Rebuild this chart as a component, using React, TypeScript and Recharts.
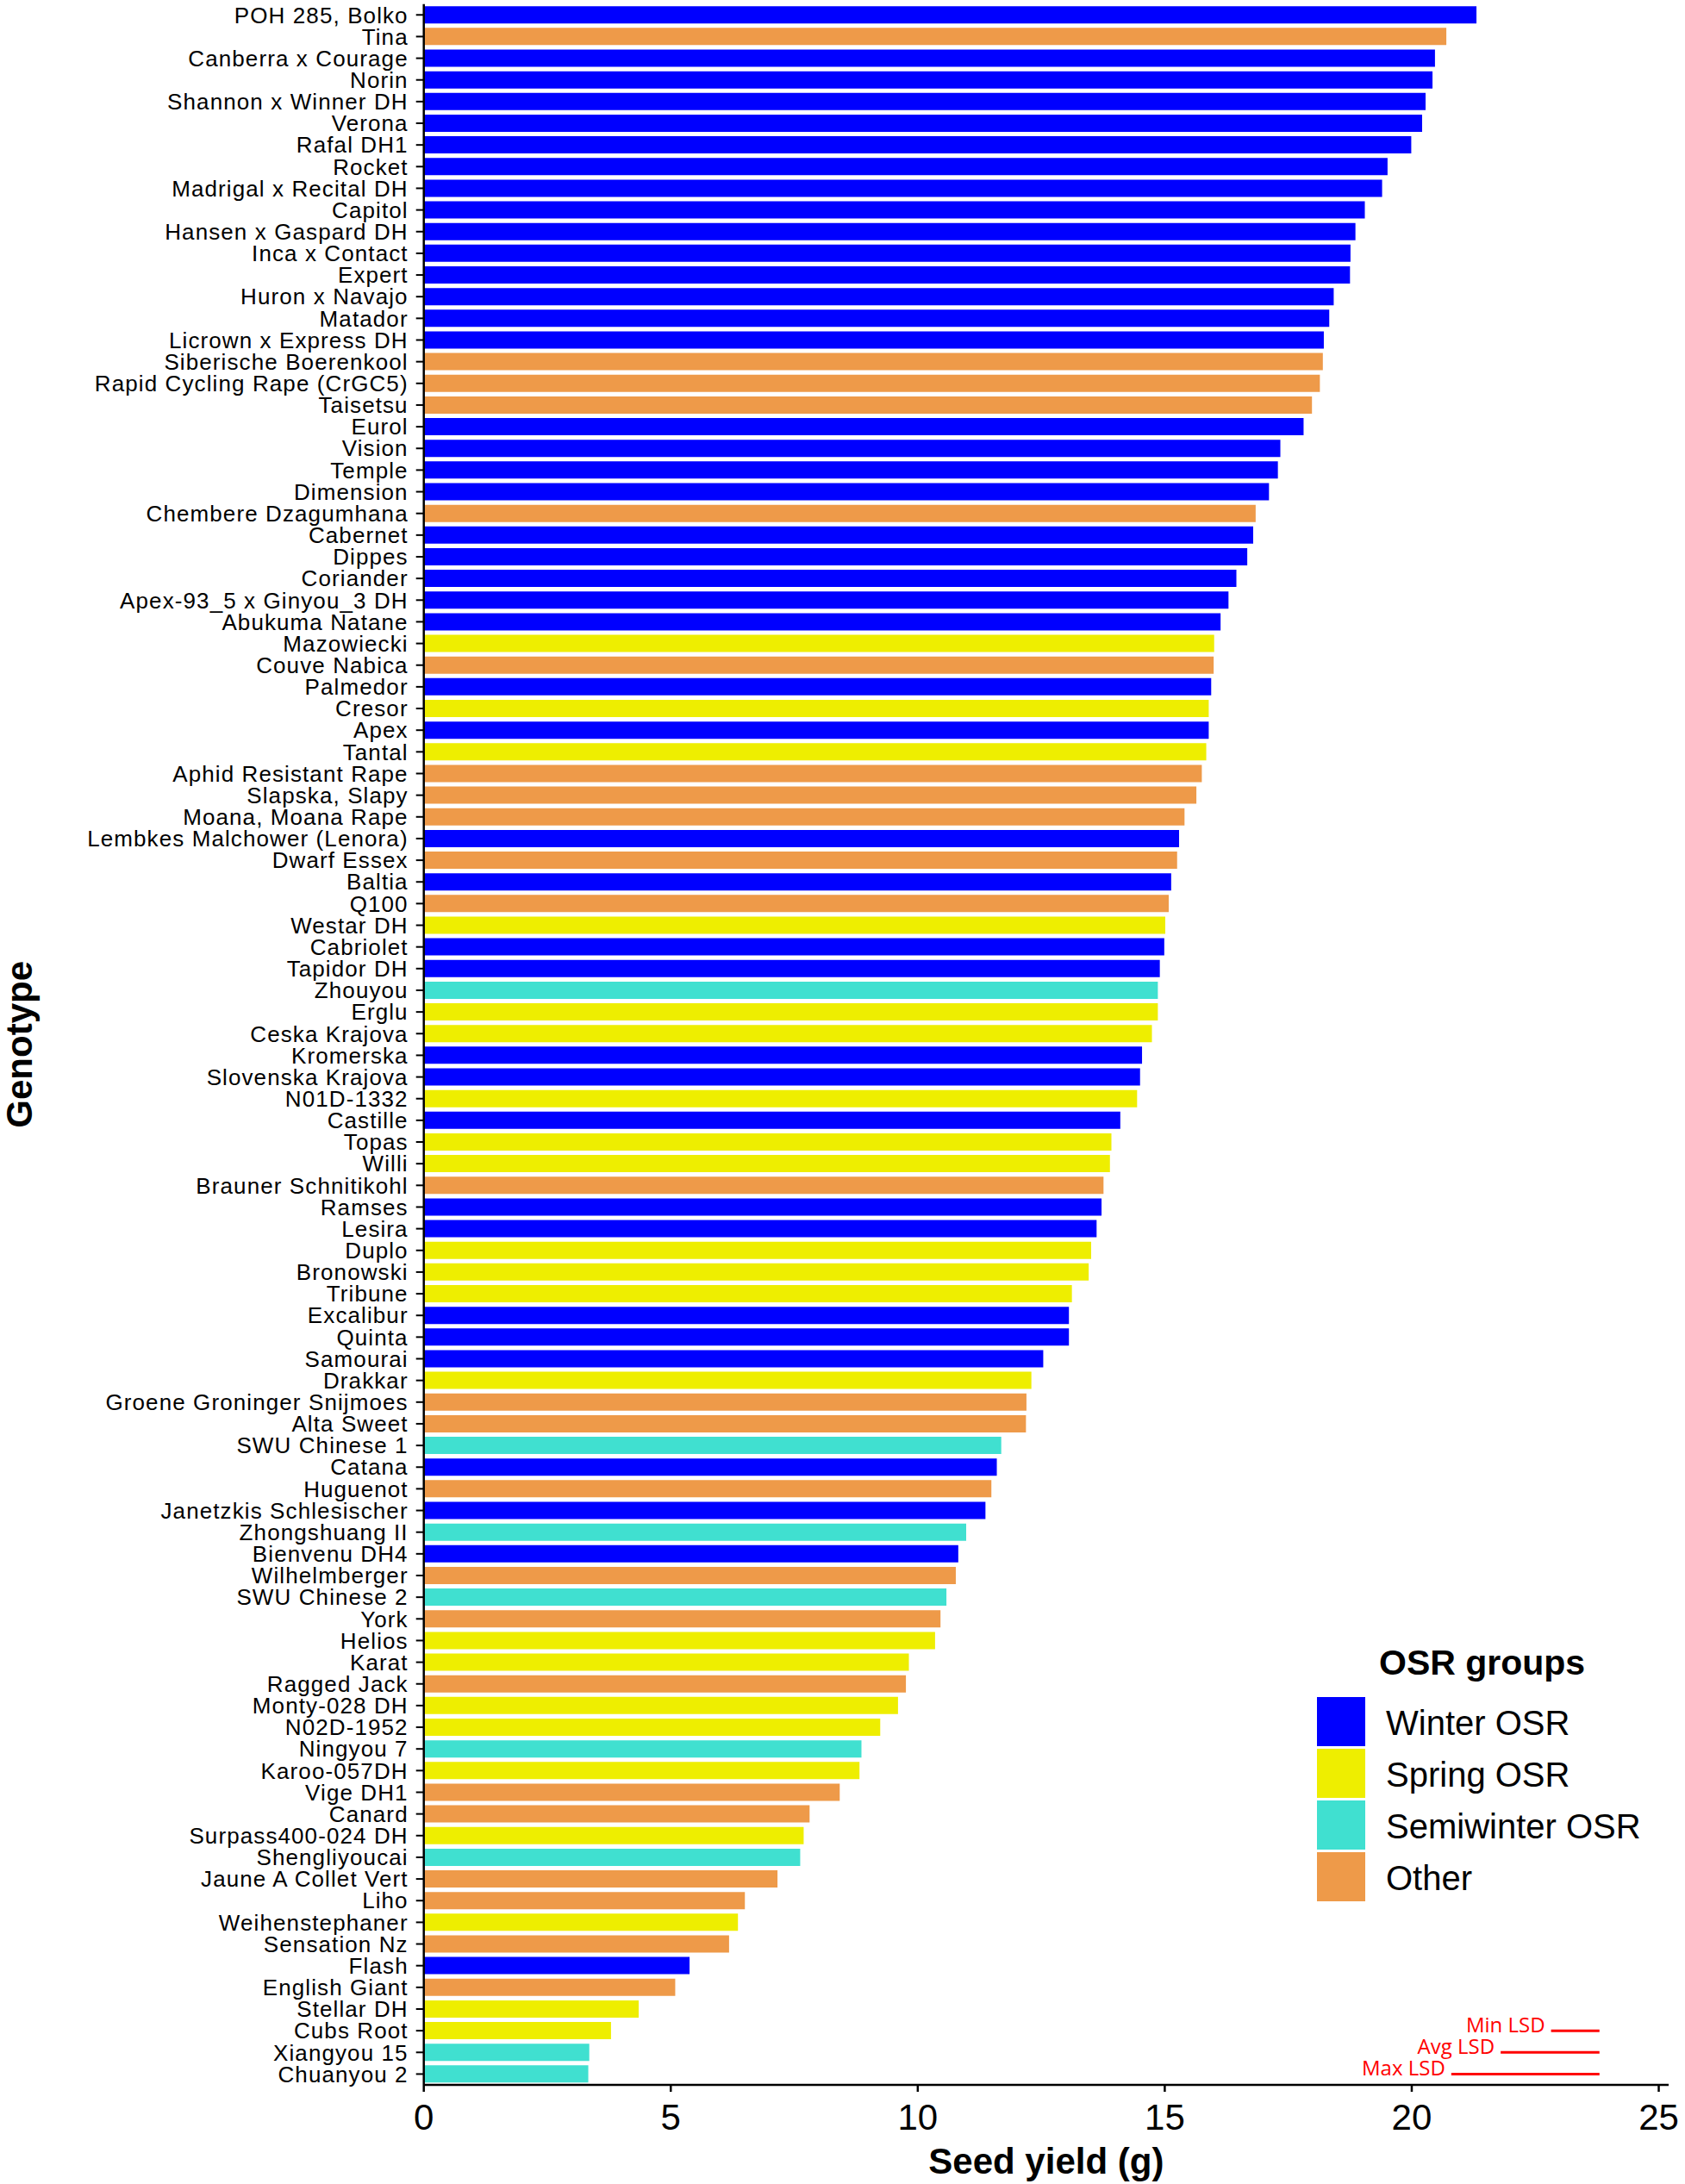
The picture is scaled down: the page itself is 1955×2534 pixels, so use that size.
import React from 'react';
import { BarChart, Bar, XAxis, YAxis, Cell, Legend, ReferenceLine } from 'recharts';

const genotypes = [
  'POH 285, Bolko', 'Tina', 'Canberra x Courage', 'Norin', 'Shannon x Winner DH', 'Verona', 'Rafal DH1', 'Rocket',
  'Madrigal x Recital DH', 'Capitol', 'Hansen x Gaspard DH', 'Inca x Contact', 'Expert', 'Huron x Navajo', 'Matador',
  'Licrown x Express DH', 'Siberische Boerenkool', 'Rapid Cycling Rape (CrGC5)', 'Taisetsu', 'Eurol', 'Vision', 'Temple',
  'Dimension', 'Chembere Dzagumhana', 'Cabernet', 'Dippes', 'Coriander', 'Apex-93_5 x Ginyou_3 DH', 'Abukuma Natane',
  'Mazowiecki', 'Couve Nabica', 'Palmedor', 'Cresor', 'Apex', 'Tantal', 'Aphid Resistant Rape', 'Slapska, Slapy',
  'Moana, Moana Rape', 'Lembkes Malchower (Lenora)', 'Dwarf Essex', 'Baltia', 'Q100', 'Westar DH', 'Cabriolet',
  'Tapidor DH', 'Zhouyou', 'Erglu', 'Ceska Krajova', 'Kromerska', 'Slovenska Krajova', 'N01D-1332', 'Castille', 'Topas',
  'Willi', 'Brauner Schnitikohl', 'Ramses', 'Lesira', 'Duplo', 'Bronowski', 'Tribune', 'Excalibur', 'Quinta', 'Samourai',
  'Drakkar', 'Groene Groninger Snijmoes', 'Alta Sweet', 'SWU Chinese 1', 'Catana', 'Huguenot', 'Janetzkis Schlesischer',
  'Zhongshuang II', 'Bienvenu DH4', 'Wilhelmberger', 'SWU Chinese 2', 'York', 'Helios', 'Karat', 'Ragged Jack',
  'Monty-028 DH', 'N02D-1952', 'Ningyou 7', 'Karoo-057DH', 'Vige DH1', 'Canard', 'Surpass400-024 DH', 'Shengliyoucai',
  'Jaune A Collet Vert', 'Liho', 'Weihenstephaner', 'Sensation Nz', 'Flash', 'English Giant', 'Stellar DH', 'Cubs Root',
  'Xiangyou 15', 'Chuanyou 2',
];

const seedYield = [
  21.31, 20.7, 20.47, 20.42, 20.28, 20.21, 19.99, 19.51,
  19.4, 19.05, 18.86, 18.76, 18.75, 18.42, 18.33,
  18.22, 18.2, 18.14, 17.98, 17.81, 17.34, 17.29,
  17.11, 16.84, 16.79, 16.67, 16.45, 16.29, 16.13,
  16.0, 15.99, 15.94, 15.89, 15.89, 15.84, 15.75, 15.64,
  15.4, 15.29, 15.25, 15.13, 15.08, 15.01, 14.99,
  14.9, 14.86, 14.86, 14.74, 14.54, 14.5, 14.44, 14.1, 13.92,
  13.89, 13.76, 13.72, 13.62, 13.51, 13.46, 13.12, 13.06, 13.06, 12.54,
  12.3, 12.2, 12.19, 11.69, 11.6, 11.49, 11.37,
  10.98, 10.82, 10.77, 10.58, 10.46, 10.35, 9.82, 9.76,
  9.6, 9.24, 8.86, 8.82, 8.42, 7.81, 7.69, 7.62,
  7.16, 6.5, 6.36, 6.18, 5.38, 5.09, 4.35, 3.79,
  3.35, 3.33,
];

// W = Winter OSR, S = Spring OSR, SW = Semiwinter OSR, O = Other
const groupCodes = [
  'W', 'O', 'W', 'W', 'W', 'W', 'W', 'W',
  'W', 'W', 'W', 'W', 'W', 'W', 'W',
  'W', 'O', 'O', 'O', 'W', 'W', 'W',
  'W', 'O', 'W', 'W', 'W', 'W', 'W',
  'S', 'O', 'W', 'S', 'W', 'S', 'O', 'O',
  'O', 'W', 'O', 'W', 'O', 'S', 'W',
  'W', 'SW', 'S', 'S', 'W', 'W', 'S', 'W', 'S',
  'S', 'O', 'W', 'W', 'S', 'S', 'S', 'W', 'W', 'W',
  'S', 'O', 'O', 'SW', 'W', 'O', 'W',
  'SW', 'W', 'O', 'SW', 'O', 'S', 'S', 'O',
  'S', 'S', 'SW', 'S', 'O', 'O', 'S', 'SW',
  'O', 'O', 'S', 'O', 'W', 'O', 'S', 'S',
  'SW', 'SW',
];

const groupKeys = ['W', 'S', 'SW', 'O'];
const groupNames = ['Winter OSR', 'Spring OSR', 'Semiwinter OSR', 'Other'];
const groupColors = ['#0000FF', '#EEEE00', '#40E0D0', '#EE9A49'];

const xTicks = [0, 5, 10, 15, 20, 25];

const lsdLabels = ['Min LSD', 'Avg LSD', 'Max LSD'];
const lsdValues = [0.98, 2.0, 3.0];
const lsdRows = ['Cubs Root', 'Xiangyou 15', 'Chuanyou 2'];
const lsdEnd = 23.8;

const data = genotypes.map((g, i) => ({
  genotype: g,
  seedYield: seedYield[i],
  group: groupCodes[i],
}));

const FONT = '"Liberation Sans", Arial, Helvetica, sans-serif';

const colorOf = (code: string) => groupColors[groupKeys.indexOf(code)];

const renderYTitle = (props: any) => {
  const vb = props.viewBox || {};
  const cx = (vb.x || 0) + 37;
  const cy = (vb.y || 0) + (vb.height || 0) / 2;
  return (
    <text
      x={cx}
      y={cy}
      transform={`rotate(-90 ${cx} ${cy})`}
      textAnchor="middle"
      fontFamily={FONT}
      fontWeight="bold"
      fontSize={42}
      fill="#000"
    >
      Genotype
    </text>
  );
};

const renderXTitle = (props: any) => {
  const vb = props.viewBox || {};
  const cx = (vb.x || 0) + (vb.width || 0) / 2;
  const y = (vb.y || 0) + 103;
  return (
    <text x={cx} y={y} textAnchor="middle" fontFamily={FONT} fontWeight="bold" fontSize={42} fill="#000">
      Seed yield (g)
    </text>
  );
};

const makeLsdLabel = (text: string) => (props: any) => {
  const vb = props.viewBox || {};
  return (
    <text
      x={(vb.x || 0) - 7}
      y={(vb.y || 0) + 2}
      textAnchor="end"
      fontFamily='"Open Sans", "Liberation Sans", sans-serif'
      fontSize={24}
      fill="#FF0000"
    >
      {text}
    </text>
  );
};

const renderLegend = () => (
  <svg width={455} height={340} style={{ overflow: 'visible', display: 'block' }}>
    <text x={100} y={63} fontFamily={FONT} fontWeight="bold" fontSize={41} fill="#000">
      OSR groups
    </text>
    {groupNames.map((name, i) => (
      <g key={name}>
        <rect x={28} y={89 + i * 60} width={56} height={57} fill={groupColors[i]} />
        <text x={108} y={133 + i * 60} fontFamily={FONT} fontSize={40} fill="#000">
          {name}
        </text>
      </g>
    ))}
  </svg>
);

export default function App() {
  return (
    <div style={{ position: 'absolute', left: 0, top: 0, width: 1955, height: 2534, background: '#fff' }}>
      <BarChart
        width={1955}
        height={2534}
        data={data}
        layout="vertical"
        margin={{ top: 4.7, right: 19, bottom: 0, left: 0 }}
        barCategoryGap="10%"
      >
        <XAxis
          type="number"
          dataKey="seedYield"
          domain={[0, 25.2]}
          ticks={xTicks}
          allowDataOverflow
          height={115}
          tickSize={8}
          tickMargin={14}
          tick={{ fontSize: 42, fill: '#000', fontFamily: FONT }}
          axisLine={{ stroke: '#000', strokeWidth: 2.5 }}
          tickLine={{ stroke: '#000', strokeWidth: 2.5 }}
          label={renderXTitle}
        />
        <YAxis
          type="category"
          dataKey="genotype"
          width={491.7}
          interval={0}
          tickSize={9}
          tickMargin={9}
          tick={{ fontSize: 26, fill: '#000', fontFamily: FONT, letterSpacing: 1.1 }}
          axisLine={{ stroke: '#000', strokeWidth: 2.5 }}
          tickLine={{ stroke: '#000', strokeWidth: 2 }}
          label={renderYTitle}
        />
        <Bar dataKey="seedYield" isAnimationActive={false}>
          {data.map((d, i) => (
            <Cell key={i} fill={colorOf(d.group)} />
          ))}
        </Bar>
        {lsdLabels.map((lab, i) => (
          <ReferenceLine
            key={lab}
            segment={[
              { x: lsdEnd - lsdValues[i], y: lsdRows[i] },
              { x: lsdEnd, y: lsdRows[i] },
            ]}
            stroke="#FF0000"
            strokeWidth={3}
            ifOverflow="visible"
            label={makeLsdLabel(lab)}
          />
        ))}
        <Legend
          layout="vertical"
          align="center"
          verticalAlign="middle"
          wrapperStyle={{ position: 'absolute', left: 1500, top: 1880, width: 455, height: 340 }}
          content={renderLegend}
        />
      </BarChart>
    </div>
  );
}
